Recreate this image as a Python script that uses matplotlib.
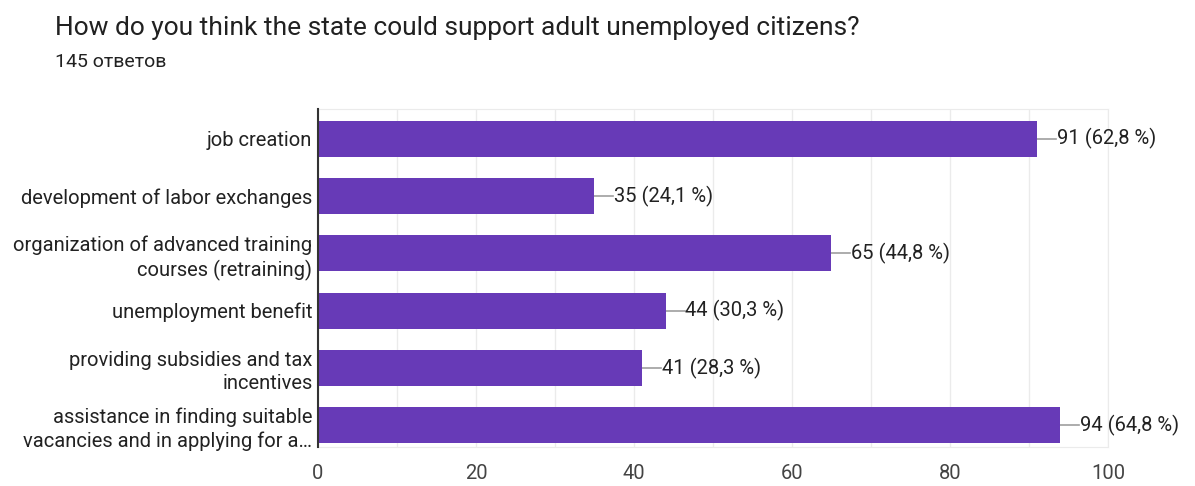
import matplotlib.pyplot as plt
import numpy as np

plt.rcParams['font.family'] = ['Roboto', 'DejaVu Sans']

title = "How do you think the state could support adult unemployed citizens?"
subtitle = "145 ответов"
labels = ["job creation",
          "development of labor exchanges",
          "organization of advanced training\ncourses (retraining)",
          "unemployment benefit",
          "providing subsidies and tax\nincentives",
          "assistance in finding suitable\nvacancies and in applying for a…"]
counts = [91, 35, 65, 44, 41, 94]
percents = ["62,8", "24,1", "44,8", "30,3", "28,3", "64,8"]

fig = plt.figure(figsize=(11.95, 4.86), dpi=100)
ax = fig.add_axes([0.2661, 0.0802, 0.661, 0.6955])

y = np.arange(len(labels))
ax.barh(y, counts, height=0.63, color="#673AB7", zorder=3)

for i in range(len(counts)):
    ax.plot([counts[i], counts[i] + 2.4], [i, i], color="#9e9e9e", lw=1.2, zorder=2)
    ax.text(counts[i] + 2.5, i, f"{counts[i]} ({percents[i]} %)", va="center", ha="left",
            fontsize=14.5, color="#222222")

ax.set_yticks(y)
ax.set_yticklabels(labels, fontsize=14.5, color="#222222", linespacing=1.3)
ax.set_ylim(5.38, -0.52)
ax.set_xlim(0, 100)
ax.set_xticks(np.arange(0, 101, 20))
ax.set_xticks(np.arange(0, 101, 10), minor=True)
ax.tick_params(axis="x", which="both", length=0, pad=12, labelsize=14.5, labelcolor="#444444")
ax.tick_params(axis="y", length=0, pad=4)
ax.grid(axis="x", which="both", color="#ebebeb", lw=1, zorder=0)

for side in ["top", "right", "bottom"]:
    ax.spines[side].set_color("#ebebeb")
ax.spines["left"].set_color("#333333")
ax.spines["left"].set_linewidth(1.5)
ax.spines["left"].set_zorder(4)

fig.text(55 / 1195, 1 - 28 / 486, title, fontsize=19, color="#212121", va="center", ha="left")
fig.text(55 / 1195, 1 - 62 / 486, subtitle, fontsize=14, color="#212121", va="center", ha="left")

plt.savefig("out.png", dpi=100)
